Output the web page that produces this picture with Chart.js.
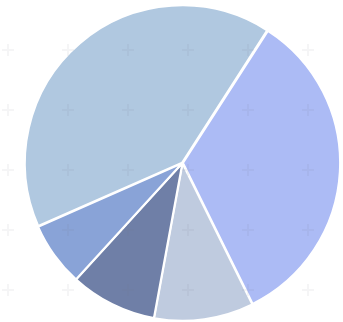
<!DOCTYPE html>
<html>
<head>
<meta charset="utf-8">
<script src="https://cdn.jsdelivr.net/npm/chart.js@4.4.1/dist/chart.umd.min.js"></script>
<style>
  html, body { margin: 0; padding: 0; background: #ffffff; }
  #wrap { width: 343px; height: 322px; position: relative; }
</style>
</head>
<body>
<div id="wrap"><canvas id="myChart"></canvas></div>
<script>
// slices, clockwise from the big one at the upper left
const categories = ['A', 'B', 'C', 'D', 'E'];
const values = [40.7, 33.6, 10.2, 8.9, 6.6];
const colores = ['#b0c8e0', '#acbbf5', '#bfcbdf', '#6f7fa7', '#89a3d7'];

// faint "+" pattern behind (and over) the pie
const cruces = {
  id: 'cruces',
  afterDraw(chart) {
    const ctx = chart.ctx;
    ctx.save();
    ctx.strokeStyle = 'rgba(110,110,130,0.07)';
    ctx.lineWidth = 2;
    for (let x = 8; x < 343; x += 60) {
      for (let y = 50; y < 322; y += 60) {
        ctx.beginPath();
        ctx.moveTo(x - 6, y); ctx.lineTo(x + 6, y);
        ctx.moveTo(x, y - 6); ctx.lineTo(x, y + 6);
        ctx.stroke();
      }
    }
    ctx.restore();
  }
};

const ctx = document.getElementById('myChart');

new Chart(ctx, {
  type: 'pie',
  data: {
    labels: categories,
    datasets: [{
      data: values,
      backgroundColor: colores,
      borderColor: '#ffffff',
      borderWidth: 2,
      offset: 2
    }]
  },
  options: {
    responsive: true,
    maintainAspectRatio: false,
    animation: false,
    rotation: 246.2,
    layout: { padding: { left: 22, top: 4, right: 0, bottom: 0 } },
    plugins: {
      legend: { display: false },
      tooltip: { enabled: false }
    }
  },
  plugins: [cruces]
})
</script>
</body>
</html>
